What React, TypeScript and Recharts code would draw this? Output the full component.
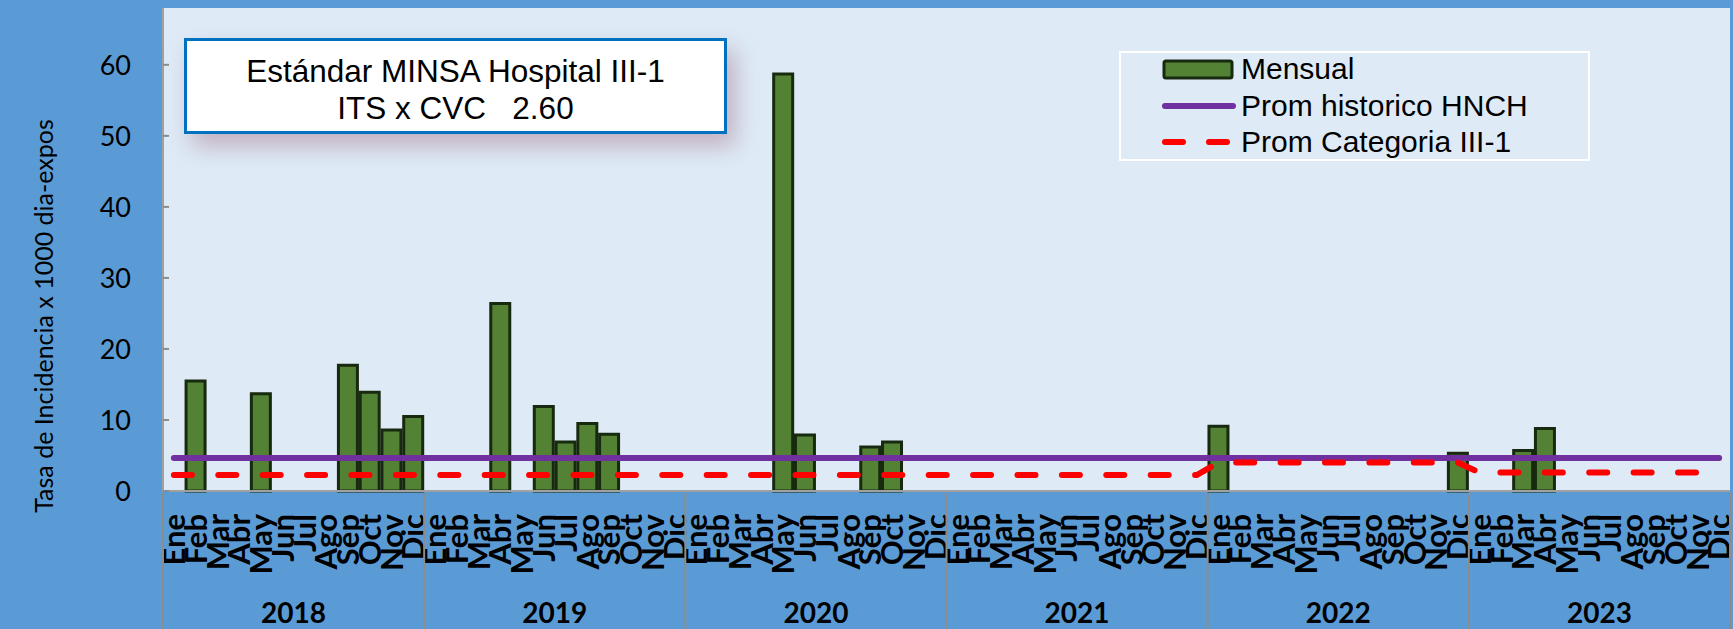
import React from "react";
import {
  ComposedChart,
  Bar,
  Line,
  XAxis,
  YAxis,
  CartesianGrid,
  Legend,
} from "recharts";

const years = ["2018", "2019", "2020", "2021", "2022", "2023"];
const months = ["Ene", "Feb", "Mar", "Abr", "May", "Jun", "Jul", "Ago", "Sep", "Oct", "Nov", "Dic"];

// monthly rate, one array per year (null = no bar)
const mensual2018 = [null, 15.5, null, null, 13.7, null, null, null, 17.7, 13.9, 8.6, 10.5];
const mensual2019 = [null, null, null, 26.4, null, 11.9, 6.9, 9.5, 8.0, null, null, null];
const mensual2020 = [null, null, null, null, 58.7, 7.9, null, null, 6.2, 6.9, null, null];
const mensual2021 = [null, null, null, null, null, null, null, null, null, null, null, null];
const mensual2022 = [9.1, null, null, null, null, null, null, null, null, null, null, 5.3];
const mensual2023 = [null, null, 5.7, 8.8, null, null, null, null, null, null, null, null];
const mensualByYear = [mensual2018, mensual2019, mensual2020, mensual2021, mensual2022, mensual2023];

const historicoByYear = [4.64, 4.64, 4.64, 4.64, 4.64, 4.64];
const categoriaByYear = [2.25, 2.25, 2.25, 2.25, 4.0, 2.6];

const yTicks = [0, 10, 20, 30, 40, 50, 60];
const legendOrder = ["mensual", "historico", "categoria"];

const data = years.flatMap((year, yi) =>
  months.map((month, mi) => ({
    key: `${year}-${month}`,
    month,
    year,
    mensual: mensualByYear[yi][mi],
    historico: historicoByYear[yi],
    categoria: categoriaByYear[yi],
  }))
);

const AXIS_FONT = "Lato, 'Open Sans', sans-serif";
const BOX_FONT = "'Liberation Sans', Arial, sans-serif";
const MONTH_AXIS_H = 95;
const YEAR_AXIS_H = 43;

function MonthTick(props: any) {
  const { x, y, payload } = props;
  const label = String(payload.value).split("-")[1];
  const ty = y + 21;
  return (
    <text
      x={x}
      y={ty}
      dy="0.36em"
      transform={`rotate(-90 ${x} ${ty})`}
      textAnchor="end"
      fontFamily={AXIS_FONT}
      fontWeight={700}
      fontSize={31}
      fill="#000"
    >
      {label}
    </text>
  );
}

function YearTick(props: any) {
  const { x, y, payload, index } = props;
  const half = payload.offset ?? 0;
  const last = index === years.length - 1;
  return (
    <g>
      <line x1={x - half} x2={x - half} y1={y - MONTH_AXIS_H} y2={y + YEAR_AXIS_H} stroke="#8c8c8c" strokeWidth={2} />
      {last && (
        <line x1={x + half} x2={x + half} y1={y - MONTH_AXIS_H} y2={y + YEAR_AXIS_H} stroke="#8c8c8c" strokeWidth={2} />
      )}
      <text x={x} y={y + 35} textAnchor="middle" fontFamily={AXIS_FONT} fontWeight={700} fontSize={28} fill="#000">
        {payload.value}
      </text>
    </g>
  );
}

function ValueTick(props: any) {
  const { x, y, payload } = props;
  return (
    <g>
      <line x1={x + 32} x2={x + 38} y1={y} y2={y} stroke="#8c8c8c" strokeWidth={2} />
      <text x={x} y={y} dy="0.36em" textAnchor="end" fontFamily={AXIS_FONT} fontSize={27} fill="#000">
        {payload.value}
      </text>
    </g>
  );
}

function YLabel() {
  return (
    <text
      x={53}
      y={316}
      transform="rotate(-90 53 316)"
      textAnchor="middle"
      fontFamily={AXIS_FONT}
      fontSize={25}
      fill="#000"
    >
      Tasa de Incidencia x 1000 dia-expos
    </text>
  );
}

function LegendBox(props: any) {
  const items = [...(props.payload || [])].sort(
    (a: any, b: any) => legendOrder.indexOf(a.dataKey) - legendOrder.indexOf(b.dataKey)
  );
  return (
    <div
      style={{
        width: 471,
        height: 110,
        border: "2px solid #fff",
        boxSizing: "border-box",
        position: "relative",
        fontFamily: BOX_FONT,
        fontSize: 30,
        color: "#000",
      }}
    >
      {items.map((item: any, i: number) => {
        const top = 16 + i * 36.5;
        let swatch;
        if (item.type === "rect") {
          swatch = <rect x={3} y={8} width={68} height={17} rx={2} fill="#548235" stroke="#17290e" strokeWidth={3} />;
        } else if (item.dataKey === "categoria") {
          swatch = (
            <line x1={4} x2={72} y1={16} y2={16} stroke={item.color} strokeWidth={6} strokeLinecap="round" strokeDasharray="18 26" />
          );
        } else {
          swatch = <line x1={4} x2={72} y1={16} y2={16} stroke={item.color} strokeWidth={6} strokeLinecap="round" />;
        }
        return (
          <div key={i} style={{ position: "absolute", left: 0, top: top - 16, height: 32, display: "flex", alignItems: "center" }}>
            <svg width={90} height={32} style={{ marginLeft: 40 }}>
              {swatch}
            </svg>
            <span style={{ marginLeft: -10, lineHeight: "32px", whiteSpace: "nowrap" }}>{item.value}</span>
          </div>
        );
      })}
    </div>
  );
}

export default function App() {
  return (
    <div
      style={{
        position: "absolute",
        left: 0,
        top: 0,
        width: 1733,
        height: 629,
        background: "#5b9bd5",
        overflow: "hidden",
      }}
    >
      <ComposedChart
        width={1733}
        height={629}
        data={data}
        margin={{ top: 8, right: 3, bottom: 0, left: 0 }}
        barCategoryGap="6%"
      >
        <CartesianGrid horizontal={false} vertical={false} fill="#deebf7" stroke="none" />
        <XAxis
          dataKey="key"
          height={MONTH_AXIS_H}
          interval={0}
          tick={<MonthTick />}
          tickLine={false}
          tickSize={0}
          axisLine={{ stroke: "#a0a0a0", strokeWidth: 2 }}
        />
        <XAxis
          xAxisId="yr"
          dataKey="year"
          allowDuplicatedCategory={false}
          height={YEAR_AXIS_H}
          interval={0}
          tick={<YearTick />}
          tickLine={false}
          tickSize={0}
          axisLine={false}
        />
        <YAxis
          width={163}
          domain={[0, 68]}
          ticks={yTicks}
          tick={<ValueTick />}
          tickLine={false}
          tickSize={0}
          tickMargin={32}
          axisLine={{ stroke: "#a0a0a0", strokeWidth: 2 }}
          label={<YLabel />}
        />
        <Legend
          layout="vertical"
          align="center"
          verticalAlign="middle"
          content={<LegendBox />}
          wrapperStyle={{ left: 1119, top: 51, width: 471, height: 110 }}
        />
        <Bar
          dataKey="mensual"
          name="Mensual"
          fill="#548235"
          stroke="#17290e"
          strokeWidth={3}
          legendType="rect"
          isAnimationActive={false}
        />
        <Line
          type="linear"
          dataKey="historico"
          name="Prom historico HNCH"
          stroke="#7030a0"
          strokeWidth={6}
          strokeLinecap="round"
          dot={false}
          activeDot={false}
          legendType="line"
          isAnimationActive={false}
        />
        <Line
          type="linear"
          dataKey="categoria"
          name="Prom Categoria III-1"
          stroke="#ff0000"
          strokeWidth={6}
          strokeLinecap="round"
          strokeDasharray="18 26.4"
          dot={false}
          activeDot={false}
          legendType="line"
          isAnimationActive={false}
        />
      </ComposedChart>
      <div
        style={{
          position: "absolute",
          left: 184,
          top: 38,
          width: 543,
          height: 96,
          boxSizing: "border-box",
          border: "3px solid #0070c0",
          background: "#fff",
          boxShadow: "8px 12px 22px rgba(160, 105, 125, 0.45)",
          fontFamily: BOX_FONT,
          fontSize: 31.5,
          color: "#000",
          textAlign: "center",
        }}
      >
        <div style={{ position: "absolute", left: 0, right: 0, top: 12, lineHeight: "37px", whiteSpace: "pre" }}>
          Estándar MINSA Hospital III-1
        </div>
        <div style={{ position: "absolute", left: 0, right: 0, top: 49, lineHeight: "37px", whiteSpace: "pre" }}>
          {"ITS x CVC   2.60"}
        </div>
      </div>
    </div>
  );
}
